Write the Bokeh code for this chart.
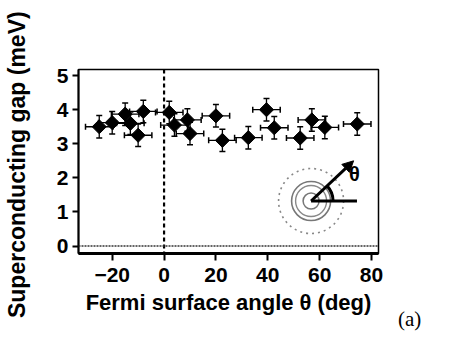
import math
from bokeh.plotting import figure
from bokeh.models import (ColumnDataSource, Whisker, TeeHead, Span, Arrow, NormalHead,
                          Label, Range1d, FixedTicker, Div)
from bokeh.layouts import row
from bokeh.embed import file_html
from bokeh.resources import INLINE

# ---- data ----
theta = [-25, -20, -15, -13, -10, -8, 2, 4, 9, 10, 20, 22.5, 32.5, 39.5, 42.5, 52.5, 57, 62, 74.5]
gap = [3.5, 3.62, 3.87, 3.6, 3.25, 3.95, 3.92, 3.55, 3.7, 3.3, 3.82, 3.1, 3.18, 4.0, 3.47, 3.17, 3.7, 3.48, 3.58]
theta_err = [5.3] * len(theta)
gap_err = [0.33] * len(theta)

x_ticks = [-20, 0, 20, 40, 60, 80]
y_ticks = [0, 1, 2, 3, 4, 5]

# inset (schematic) parameters
inset_center = (56.7, 1.32)
inset_line_end = 74.4
inset_arrow_tip = (73.1, 2.5)

FONT = "Liberation Sans"

src = ColumnDataSource(dict(
    x=theta, y=gap,
    x_lo=[t - e for t, e in zip(theta, theta_err)],
    x_hi=[t + e for t, e in zip(theta, theta_err)],
    y_lo=[g - e for g, e in zip(gap, gap_err)],
    y_hi=[g + e for g, e in zip(gap, gap_err)],
))

p = figure(width=73 + 305 + 18, height=69 + 184 + 80, output_backend="svg", toolbar_location=None,
           x_range=Range1d(-33.0, 82.7), y_range=Range1d(-0.22, 5.18),
           min_border_left=73, min_border_right=18, min_border_top=69, min_border_bottom=80)

p.background_fill_color = "white"
p.border_fill_color = "white"
p.outline_line_color = "black"
p.outline_line_width = 1.5
p.xgrid.visible = False
p.ygrid.visible = False

for ax in (p.xaxis, p.yaxis):
    ax.axis_label_text_font = FONT
    ax.axis_label_text_font_style = "bold"
    ax.axis_label_text_font_size = "22px"
    ax.major_label_text_font = FONT
    ax.major_label_text_font_style = "bold"
    ax.major_label_text_font_size = "21px"
    ax.major_label_text_color = "black"
    ax.axis_label_text_color = "black"
    ax.minor_tick_line_color = None
    ax.major_tick_in = 0
    ax.major_tick_line_color = "black"
    ax.major_tick_line_width = 2
    ax.axis_line_color = "black"

p.xaxis.ticker = FixedTicker(ticks=x_ticks)
p.yaxis.ticker = FixedTicker(ticks=y_ticks)
p.xaxis.axis_label = "Fermi surface angle θ (deg)"
p.yaxis.axis_label = "Superconducting gap  (meV)"
p.yaxis.axis_label_text_font_size = "23px"
p.xaxis.axis_line_width = 3
p.yaxis.axis_line_width = 2
p.xaxis.major_tick_out = 7
p.yaxis.major_tick_out = 6
p.xaxis.major_label_standoff = 7
p.yaxis.major_label_standoff = 4
p.xaxis.axis_label_standoff = 5
p.yaxis.axis_label_standoff = 24

# reference lines
p.add_layout(Span(location=0, dimension="height", line_color="black",
                  line_width=2.2, line_dash="4 3"))
p.add_layout(Span(location=0, dimension="width", line_color="#333333",
                  line_width=1.5, line_dash="2 1"))

# error bars
p.add_layout(Whisker(source=src, base="y", lower="x_lo", upper="x_hi", dimension="width",
                     line_color="black", line_width=1.3,
                     lower_head=TeeHead(size=6, line_width=1.5, line_color="black"),
                     upper_head=TeeHead(size=6, line_width=1.5, line_color="black")))
p.add_layout(Whisker(source=src, base="x", lower="y_lo", upper="y_hi", dimension="height",
                     line_color="black", line_width=1.3,
                     lower_head=TeeHead(size=6, line_width=1.5, line_color="black"),
                     upper_head=TeeHead(size=6, line_width=1.5, line_color="black")))

# markers (filled diamonds)
p.scatter("x", "y", source=src, marker="square", size=10, angle=math.pi / 4,
          fill_color="black", line_color="black")

# ---- inset schematic ----
cx, cy = inset_center
p.scatter([cx], [cy], marker="circle", size=16, fill_color=None,
          line_color="#777777", line_width=1.5)
p.scatter([cx], [cy], marker="circle", size=31, fill_color=None,
          line_color="#888888", line_width=1.4)
p.scatter([cx], [cy], marker="circle", size=39, fill_color=None,
          line_color="#777777", line_width=1.6)
p.scatter([cx], [cy], marker="circle", size=65, fill_color=None,
          line_color="#888888", line_width=1.6, line_dash="2 4")
p.segment(x0=[cx], y0=[cy], x1=[inset_line_end], y1=[cy], line_color="black", line_width=3)
p.arc(x=[cx], y=[cy], radius=22, radius_units="screen", start_angle=0,
      end_angle=0.76, line_color="black", line_width=3)
p.add_layout(Arrow(x_start=cx, y_start=cy, x_end=inset_arrow_tip[0], y_end=inset_arrow_tip[1],
                   line_color="black", line_width=3,
                   end=NormalHead(size=11, fill_color="black", line_color="black")))
p.add_layout(Label(x=71.3, y=2.12, text="θ", text_font=FONT, text_font_style="bold",
                   text_font_size="20px", text_baseline="middle", text_align="left",
                   text_color="black"))

# panel tag, placed beside the figure
tag = Div(text="(a)", width=40, height=26, margin=(307, 0, 0, 2),
          styles={"font-family": "Liberation Serif", "font-size": "21px",
                  "line-height": "1.15", "color": "black"})

layout = row(p, tag)
open("out.html", "w").write(file_html(layout, INLINE))
